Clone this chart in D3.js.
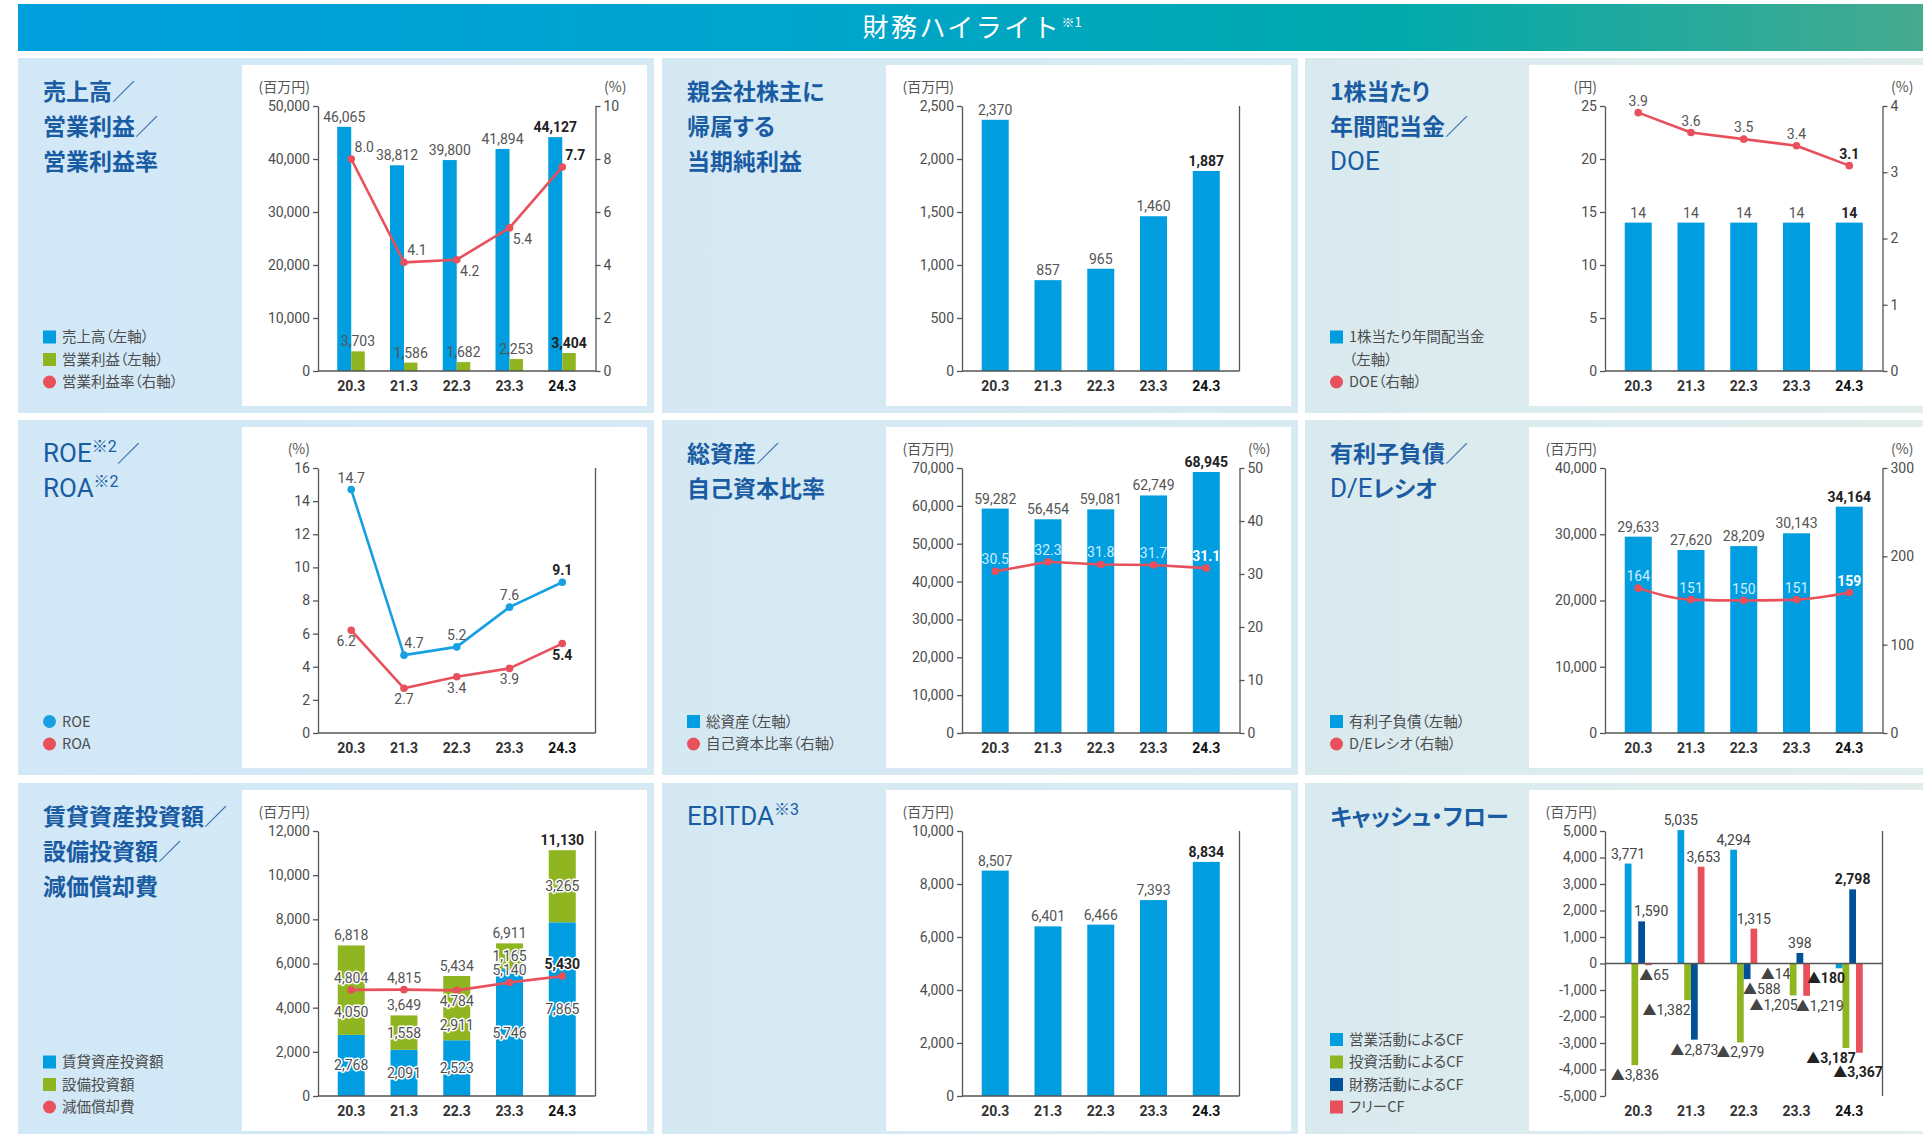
<!DOCTYPE html>
<html>
<head>
<meta charset="utf-8">
<script src="https://cdn.jsdelivr.net/npm/d3@7"></script>
<style>
  html, body { margin: 0; padding: 0; background: #fff; }
  svg { display: block; }
  .jp { font-feature-settings: 'palt'; }
</style>
</head>
<body>
<svg id="chart" width="1923" height="1134"></svg>
<script>
// ---- data ----
var years = ['20.3', '21.3', '22.3', '23.3', '24.3']

var salesValues = [46065, 38812, 39800, 41894, 44127]
var opIncomeValues = [3703, 1586, 1682, 2253, 3404]
var opMarginValues = [8.0, 4.1, 4.2, 5.4, 7.7]

var netIncomeValues = [2370, 857, 965, 1460, 1887]

var dividendValues = [14, 14, 14, 14, 14]
var doeValues = [3.9, 3.6, 3.5, 3.4, 3.1]

var roeValues = [14.7, 4.7, 5.2, 7.6, 9.1]
var roaValues = [6.2, 2.7, 3.4, 3.9, 5.4]

var totalAssetsValues = [59282, 56454, 59081, 62749, 68945]
var equityRatioValues = [30.5, 32.3, 31.8, 31.7, 31.1]

var debtValues = [29633, 27620, 28209, 30143, 34164]
var deRatioValues = [164, 151, 150, 151, 159]

var rentalInvestValues = [2768, 2091, 2523, 5746, 7865]
var capexValues = [4050, 1558, 2911, 1165, 3265]
var depreciationValues = [4804, 4815, 4784, 5140, 5430]

var ebitdaValues = [8507, 6401, 6466, 7393, 8834]

var opCFValues = [3771, 5035, 4294, -14, -180]
var invCFValues = [-3836, -1382, -2979, -1205, -3187]
var finCFValues = [1590, -2873, -588, 398, 2798]
var freeCFValues = [-65, 3653, 1315, -1219, -3367]

// ---- tick labels ----
var salesTicks = [0, 10000, 20000, 30000, 40000, 50000]
var marginTicks = [0, 2, 4, 6, 8, 10]
var netIncomeTicks = [0, 500, 1000, 1500, 2000, 2500]
var dividendTicks = [0, 5, 10, 15, 20, 25]
var doeTicks = [0, 1, 2, 3, 4]
var roeTicks = [0, 2, 4, 6, 8, 10, 12, 14, 16]
var assetTicks = [0, 10000, 20000, 30000, 40000, 50000, 60000, 70000]
var equityTicks = [0, 10, 20, 30, 40, 50]
var debtTicks = [0, 10000, 20000, 30000, 40000]
var deTicks = [0, 100, 200, 300]
var investTicks = [0, 2000, 4000, 6000, 8000, 10000, 12000]
var ebitdaTicks = [0, 2000, 4000, 6000, 8000, 10000]
var cfTicks = [-5000, -4000, -3000, -2000, -1000, 0, 1000, 2000, 3000, 4000, 5000]

// ---- style ----
var BLUE = '#009ee0', GREEN = '#8fb520', RED = '#e8505b', NAVY = '#00509a'
var TITLE = '#1a5ca3', AXIS = '#555', TEXT = '#555'
var NUMFONT = "Roboto, 'Noto Sans CJK JP', sans-serif"
var JPFONT = "'Noto Sans CJK JP', sans-serif"

var colX = [18, 662, 1305], rowY = [58, 420, 783]
var panelW = 636, panelH = 355
var L = 300, R = 577.5, T = 48, B = 313

var fmt = d3.format(',')
function fmtSigned(v) { return v < 0 ? '-' + fmt(-v) : fmt(v) }
function fmtTri(v) { return v < 0 ? '▲' + fmt(-v) : fmt(v) }
var fmt1 = d3.format('.1f')

var svg = d3.select('#chart')
var defs = svg.append('defs')

function gradient(id, stops) {
  var gr = defs.append('linearGradient').attr('id', id)
    .attr('x1', '0%').attr('x2', '100%').attr('y1', '0%').attr('y2', '0%')
  stops.forEach(function(s) {
    gr.append('stop').attr('offset', s[0]).attr('stop-color', s[1])
  })
}
gradient('titleGrad', [['0%', '#009fdd'], ['40%', '#00a4cc'], ['72%', '#00a9ac'], ['100%', '#45aa8f']])
gradient('bg0', [['0%', '#d2e8f7'], ['100%', '#d6eaf5']])
gradient('bg1', [['0%', '#d5e9f4'], ['100%', '#d9ebf2']])
gradient('bg2', [['0%', '#d9eaef'], ['100%', '#e1eeec']])

// title bar
svg.append('rect').attr('x', 18).attr('y', 4).attr('width', 1905).attr('height', 47)
  .attr('fill', 'url(#titleGrad)')
var head = svg.append('text').attr('x', 972).attr('y', 37).attr('text-anchor', 'middle')
  .attr('fill', '#fff').attr('font-family', JPFONT).attr('font-size', 26)
  .attr('font-weight', 400).attr('letter-spacing', 2.5)
head.append('tspan').text('財務ハイライト')
head.append('tspan').attr('font-size', 13).attr('dy', -10).attr('letter-spacing', 0).text('※1')

function drawTitle(g, lines) {
  lines.forEach(function(line, i) {
    var t = g.append('text').attr('class', 'jp').attr('x', 25).attr('y', 41.5 + i * 35).attr('fill', TITLE)
    var parts = line.match(/※\d|[A-Za-z\/]+|／|[^A-Za-z\/※／]+/g)
    var raised = false
    parts.forEach(function(p) {
      var s = t.append('tspan').text(p)
      if (p[0] === '※') {
        s.attr('font-family', NUMFONT).attr('font-size', 16).attr('dy', -10)
        raised = true
        return
      }
      if (raised) { s.attr('dy', 10); raised = false }
      if (/^[A-Za-z\/]+$/.test(p)) {
        s.attr('font-family', NUMFONT).attr('font-size', 26).attr('font-weight', 400)
      } else if (p === '／') {
        s.attr('font-family', JPFONT).attr('font-size', 23).attr('font-weight', 300)
      } else {
        s.attr('font-family', JPFONT).attr('font-size', 23).attr('font-weight', 700)
      }
    })
  })
}

function drawLegend(g, items) {
  var n = items.length
  items.forEach(function(it, i) {
    var cy = 324 - (n - 1 - i) * 22.5
    if (it.shape === 'rect') {
      g.append('rect').attr('x', 25).attr('y', cy - 6.5).attr('width', 13).attr('height', 13).attr('fill', it.color)
    } else if (it.shape === 'circle') {
      g.append('circle').attr('cx', 31.5).attr('cy', cy).attr('r', 6.5).attr('fill', it.color)
    }
    g.append('text').attr('class', 'jp').attr('x', 44).attr('y', cy + 5).attr('fill', '#4d4d4d')
      .attr('font-family', JPFONT).attr('font-size', 14.5).text(it.text)
  })
}

function panel(col, row, opts) {
  var g = svg.append('g').attr('transform', 'translate(' + colX[col] + ',' + rowY[row] + ')')
  g.append('rect').attr('width', panelW).attr('height', panelH).attr('fill', 'url(#bg' + col + ')')
  g.append('rect').attr('x', 224).attr('y', 7).attr('width', 405).attr('height', 341).attr('fill', '#fff')
  drawTitle(g, opts.title)
  if (opts.legend) drawLegend(g, opts.legend)
  if (opts.unitL) {
    g.append('text').attr('x', 292).attr('y', 34).attr('text-anchor', 'end').attr('fill', TEXT)
      .attr('font-family', JPFONT).attr('font-size', 14).text(opts.unitL)
  }
  if (opts.unitR) {
    g.append('text').attr('x', 586).attr('y', 34).attr('fill', TEXT)
      .attr('font-family', JPFONT).attr('font-size', 14).text(opts.unitR)
  }
  var x = d3.scalePoint().domain(years).range([L, R]).padding(0.63)
  return { g: g, x: x, plot: g.append('g'), top: g.append('g') }
}

function styleAxis(a) {
  a.attr('font-family', NUMFONT).attr('font-size', 14)
  a.select('.domain').attr('stroke', AXIS).attr('stroke-width', 1.3)
  a.selectAll('.tick line').attr('stroke', AXIS).attr('stroke-width', 1.3)
  a.selectAll('.tick text').attr('fill', '#4d4d4d')
}

function leftAxis(p, y, ticks, f) {
  var a = p.top.append('g').attr('transform', 'translate(' + L + ',0)')
    .call(d3.axisLeft(y).tickValues(ticks).tickSize(5).tickSizeOuter(0).tickPadding(3).tickFormat(f || fmt))
  styleAxis(a)
}

function rightAxis(p, y, ticks, f) {
  var a = p.top.append('g').attr('transform', 'translate(' + R + ',0)')
    .call(d3.axisRight(y).tickValues(ticks).tickSize(5).tickSizeOuter(0).tickPadding(3).tickFormat(f || fmt))
  styleAxis(a)
}

function frameRight(p) {
  p.top.append('line').attr('x1', R).attr('x2', R).attr('y1', T).attr('y2', B)
    .attr('stroke', AXIS).attr('stroke-width', 1.3)
}

function baseLine(p, yv) {
  var yy = yv === undefined ? B : yv
  p.top.append('line').attr('x1', L).attr('x2', R).attr('y1', yy).attr('y2', yy)
    .attr('stroke', AXIS).attr('stroke-width', 1.5)
}

function categories(p) {
  p.top.selectAll('text.cat').data(years).enter().append('text')
    .attr('class', 'cat')
    .attr('x', function(d) { return p.x(d) })
    .attr('y', 333)
    .attr('text-anchor', 'middle')
    .attr('font-family', NUMFONT).attr('font-size', 14).attr('font-weight', 700)
    .attr('fill', function(d, i) { return i === years.length - 1 ? '#111' : '#333' })
    .text(function(d) { return d })
}

function addLabel(g, x, y, txt, last, fill, halo) {
  var t = g.append('text').attr('x', x).attr('y', y).attr('text-anchor', 'middle')
    .attr('font-family', NUMFONT).attr('font-size', 14)
    .attr('font-weight', last ? 700 : 400)
    .attr('fill', fill || (last ? '#222' : TEXT))
    .text(txt)
  if (halo) {
    t.attr('stroke', '#fff').attr('stroke-width', 3).attr('paint-order', 'stroke')
      .attr('stroke-linejoin', 'round')
  }
  return t
}

// simple bars from 0 to value; dx = left offset from category centre
function bars(p, values, y, dx, w, color, labelOpts) {
  p.plot.selectAll(null).data(values).enter().append('rect')
    .attr('x', function(d, i) { return p.x(years[i]) + dx })
    .attr('y', function(d) { return y(Math.max(0, d)) })
    .attr('width', w)
    .attr('height', function(d) { return Math.abs(y(d) - y(0)) })
    .attr('fill', color)
  if (labelOpts !== false) {
    values.forEach(function(v, i) {
      addLabel(p.top, p.x(years[i]) + dx + w / 2, y(v) - 5, fmt(v), i === values.length - 1)
    })
  }
}

function line(p, values, y, color, curve) {
  var gen = d3.line()
    .x(function(d, i) { return p.x(years[i]) })
    .y(function(d) { return y(d) })
  if (curve) gen.curve(curve)
  p.top.append('path').datum(values).attr('d', gen)
    .attr('fill', 'none').attr('stroke', color).attr('stroke-width', 2.6)
    .attr('stroke-linejoin', 'round')
  p.top.selectAll(null).data(values).enter().append('circle')
    .attr('cx', function(d, i) { return p.x(years[i]) })
    .attr('cy', function(d) { return y(d) })
    .attr('r', 3.8).attr('fill', color)
}

// labels around line points: pos 'up' / 'down', dx per point
function pointLabels(p, values, y, o) {
  values.forEach(function(v, i) {
    var last = i === values.length - 1
    var pos = o.pos ? o.pos[i] : 'up'
    var dx = o.dx ? (Array.isArray(o.dx) ? o.dx[i] : o.dx) : 0
    var yy = y(v) + (pos === 'up' ? -7 : 16)
    var fill = o.fill ? (last ? o.lastFill : o.fill) : null
    addLabel(p.top, p.x(years[i]) + dx, yy, o.format(v), last, fill, o.halo)
  })
}

// ===== 1. 売上高／営業利益／営業利益率 =====
var p1 = panel(0, 0, {
  title: ['売上高／', '営業利益／', '営業利益率'],
  legend: [
    { shape: 'rect', color: BLUE, text: '売上高（左軸）' },
    { shape: 'rect', color: GREEN, text: '営業利益（左軸）' },
    { shape: 'circle', color: RED, text: '営業利益率（右軸）' }
  ],
  unitL: '(百万円)', unitR: '(%)'
})
var y1L = d3.scaleLinear().domain([0, 50000]).range([B, T])
var y1R = d3.scaleLinear().domain([0, 10]).range([B, T])
bars(p1, salesValues, y1L, -14, 14, BLUE)
bars(p1, opIncomeValues, y1L, 0, 13.5, GREEN)
line(p1, opMarginValues, y1R, RED)
pointLabels(p1, opMarginValues, y1R, { format: fmt1, dx: 13, pos: ['up', 'up', 'down', 'down', 'up'] })
leftAxis(p1, y1L, salesTicks)
rightAxis(p1, y1R, marginTicks)
baseLine(p1)
categories(p1)

// ===== 2. 親会社株主に帰属する当期純利益 =====
var p2 = panel(1, 0, {
  title: ['親会社株主に', '帰属する', '当期純利益'],
  unitL: '(百万円)'
})
var y2 = d3.scaleLinear().domain([0, 2500]).range([B, T])
bars(p2, netIncomeValues, y2, -13.5, 27, BLUE)
leftAxis(p2, y2, netIncomeTicks)
frameRight(p2)
baseLine(p2)
categories(p2)

// ===== 3. 1株当たり年間配当金／DOE =====
var p3 = panel(2, 0, {
  title: ['1株当たり', '年間配当金／', 'DOE'],
  legend: [
    { shape: 'rect', color: BLUE, text: '1株当たり年間配当金' },
    { shape: null, text: '（左軸）' },
    { shape: 'circle', color: RED, text: 'DOE（右軸）' }
  ],
  unitL: '(円)', unitR: '(%)'
})
var y3L = d3.scaleLinear().domain([0, 25]).range([B, T])
var y3R = d3.scaleLinear().domain([0, 4]).range([B, T])
bars(p3, dividendValues, y3L, -13.5, 27, BLUE)
line(p3, doeValues, y3R, RED)
pointLabels(p3, doeValues, y3R, { format: fmt1 })
leftAxis(p3, y3L, dividendTicks)
rightAxis(p3, y3R, doeTicks)
baseLine(p3)
categories(p3)

// ===== 4. ROE／ROA =====
var p4 = panel(0, 1, {
  title: ['ROE※2／', 'ROA※2'],
  legend: [
    { shape: 'circle', color: '#17a0e1', text: 'ROE' },
    { shape: 'circle', color: RED, text: 'ROA' }
  ],
  unitL: '(%)'
})
var y4 = d3.scaleLinear().domain([0, 16]).range([B, T])
line(p4, roeValues, y4, '#17a0e1')
line(p4, roaValues, y4, RED)
pointLabels(p4, roeValues, y4, { format: fmt1, dx: [0, 10, 0, 0, 0] })
pointLabels(p4, roaValues, y4, { format: fmt1, dx: [-5, 0, 0, 0, 0], pos: ['down', 'down', 'down', 'down', 'down'] })
leftAxis(p4, y4, roeTicks)
frameRight(p4)
baseLine(p4)
categories(p4)

// ===== 5. 総資産／自己資本比率 =====
var p5 = panel(1, 1, {
  title: ['総資産／', '自己資本比率'],
  legend: [
    { shape: 'rect', color: BLUE, text: '総資産（左軸）' },
    { shape: 'circle', color: RED, text: '自己資本比率（右軸）' }
  ],
  unitL: '(百万円)', unitR: '(%)'
})
var y5L = d3.scaleLinear().domain([0, 70000]).range([B, T])
var y5R = d3.scaleLinear().domain([0, 50]).range([B, T])
bars(p5, totalAssetsValues, y5L, -13.5, 27, BLUE)
line(p5, equityRatioValues, y5R, RED)
pointLabels(p5, equityRatioValues, y5R, { format: fmt1, fill: '#cdeeff', lastFill: '#ffffff' })
leftAxis(p5, y5L, assetTicks)
rightAxis(p5, y5R, equityTicks)
baseLine(p5)
categories(p5)

// ===== 6. 有利子負債／D/Eレシオ =====
var p6 = panel(2, 1, {
  title: ['有利子負債／', 'D/Eレシオ'],
  legend: [
    { shape: 'rect', color: BLUE, text: '有利子負債（左軸）' },
    { shape: 'circle', color: RED, text: 'D/Eレシオ（右軸）' }
  ],
  unitL: '(百万円)', unitR: '(%)'
})
var y6L = d3.scaleLinear().domain([0, 40000]).range([B, T])
var y6R = d3.scaleLinear().domain([0, 300]).range([B, T])
bars(p6, debtValues, y6L, -13.5, 27, BLUE)
line(p6, deRatioValues, y6R, RED, d3.curveMonotoneX)
pointLabels(p6, deRatioValues, y6R, { format: d3.format('d'), fill: '#cdeeff', lastFill: '#ffffff' })
leftAxis(p6, y6L, debtTicks)
rightAxis(p6, y6R, deTicks)
baseLine(p6)
categories(p6)

// ===== 7. 賃貸資産投資額／設備投資額／減価償却費 =====
var p7 = panel(0, 2, {
  title: ['賃貸資産投資額／', '設備投資額／', '減価償却費'],
  legend: [
    { shape: 'rect', color: BLUE, text: '賃貸資産投資額' },
    { shape: 'rect', color: GREEN, text: '設備投資額' },
    { shape: 'circle', color: RED, text: '減価償却費' }
  ],
  unitL: '(百万円)'
})
var y7 = d3.scaleLinear().domain([0, 12000]).range([B, T])
var stacked = years.map(function(yr, i) {
  return { year: yr, rental: rentalInvestValues[i], capex: capexValues[i] }
})
var series7 = d3.stack().keys(['rental', 'capex'])(stacked)
var capexLabelShift = [22, 0, 17, 0, 0]
series7.forEach(function(s) {
  var color = s.key === 'rental' ? BLUE : GREEN
  p7.plot.selectAll(null).data(s).enter().append('rect')
    .attr('x', function(d) { return p7.x(d.data.year) - 13.5 })
    .attr('y', function(d) { return y7(d[1]) })
    .attr('width', 27)
    .attr('height', function(d) { return y7(d[0]) - y7(d[1]) })
    .attr('fill', color)
})
line(p7, depreciationValues, y7, RED)
series7.forEach(function(s) {
  s.forEach(function(d, i) {
    var mid = (y7(d[0]) + y7(d[1])) / 2 + 5
    if (s.key === 'capex') mid += capexLabelShift[i]
    addLabel(p7.top, p7.x(d.data.year), mid, fmt(d[1] - d[0]), false, '#505050', true)
  })
})
series7[1].forEach(function(d, i) {
  addLabel(p7.top, p7.x(d.data.year), y7(d[1]) - 5, fmt(d[1]), i === years.length - 1)
})
pointLabels(p7, depreciationValues, y7, { format: fmt, halo: true, pos: ['up', 'up', 'down', 'up', 'up'] })
leftAxis(p7, y7, investTicks)
frameRight(p7)
baseLine(p7)
categories(p7)

// ===== 8. EBITDA =====
var p8 = panel(1, 2, {
  title: ['EBITDA※3'],
  unitL: '(百万円)'
})
var y8 = d3.scaleLinear().domain([0, 10000]).range([B, T])
bars(p8, ebitdaValues, y8, -13.5, 27, BLUE)
leftAxis(p8, y8, ebitdaTicks)
frameRight(p8)
baseLine(p8)
categories(p8)

// ===== 9. キャッシュ・フロー =====
var p9 = panel(2, 2, {
  title: ['キャッシュ・フロー'],
  legend: [
    { shape: 'rect', color: BLUE, text: '営業活動によるCF' },
    { shape: 'rect', color: GREEN, text: '投資活動によるCF' },
    { shape: 'rect', color: NAVY, text: '財務活動によるCF' },
    { shape: 'rect', color: RED, text: 'フリーCF' }
  ],
  unitL: '(百万円)'
})
var y9 = d3.scaleLinear().domain([-5000, 5000]).range([B, T])
var cfSeries = [
  { key: 'op', values: opCFValues, color: BLUE, nudge: [0, 0, 0, -10.8, -13.2] },
  { key: 'inv', values: invCFValues, color: GREEN, nudge: [0, -21, 0, -19.5, -14.8] },
  { key: 'fin', values: finCFValues, color: NAVY, nudge: [9.6, 0, 14.8, 0, 0] },
  { key: 'free', values: freeCFValues, color: RED, nudge: [5.7, 2.5, 0, 13.2, -1.4] }
]
var cfExtraDy = { free: [0, 0, 0, 0, 9] }
var sub = d3.scaleBand().domain(cfSeries.map(function(s) { return s.key })).range([-13.5, 13.5])
cfSeries.forEach(function(s) {
  bars(p9, s.values, y9, sub(s.key), sub.bandwidth(), s.color, false)
})
cfSeries.forEach(function(s) {
  s.values.forEach(function(v, i) {
    var cx = p9.x(years[i]) + sub(s.key) + sub.bandwidth() / 2 + s.nudge[i]
    var yy = v >= 0 ? y9(v) - 5 : y9(v) + 15
    if (cfExtraDy[s.key]) yy += cfExtraDy[s.key][i]
    addLabel(p9.top, cx, yy, fmtTri(v), i === years.length - 1, i === years.length - 1 ? '#222' : '#444')
  })
})
leftAxis(p9, y9, cfTicks, fmtSigned)
frameRight(p9)
baseLine(p9, y9(0))
categories(p9)
</script>
</body>
</html>
